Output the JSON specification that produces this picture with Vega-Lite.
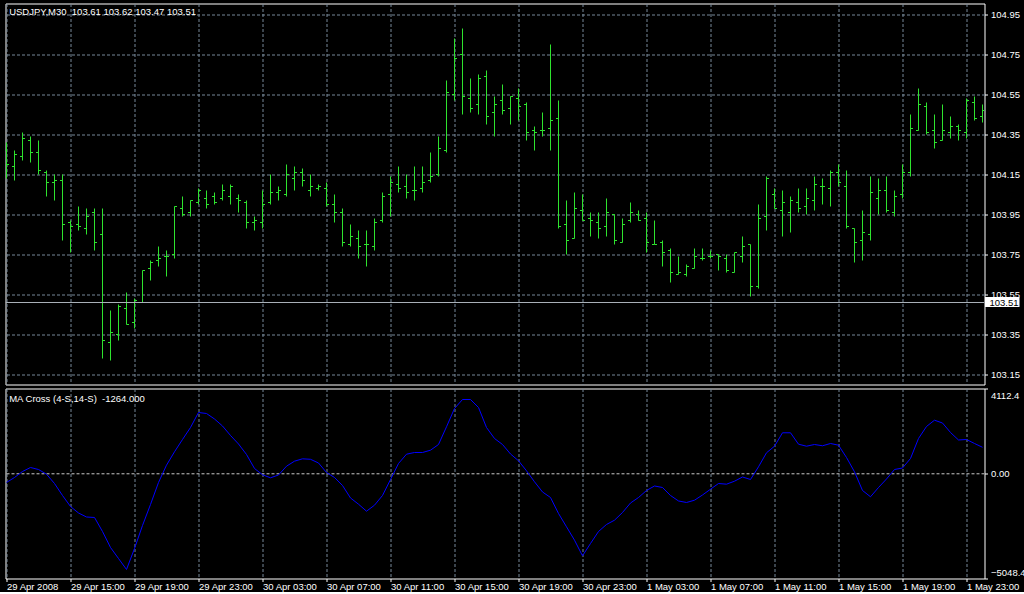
{
  "$schema": "https://vega.github.io/schema/vega-lite/v6.json",
  "background": "#000000",
  "padding": {"left": 4.5, "top": 2.5, "right": 0, "bottom": 0},
  "spacing": 2,
  "datasets": {
    "bars": [
      {"t":"2008-04-29 11:00","o":104.27,"h":104.31,"l":104.13,"c":104.20,"ma":-419},
      {"t":"2008-04-29 11:30","o":104.19,"h":104.27,"l":104.12,"c":104.25,"ma":-178},
      {"t":"2008-04-29 12:00","o":104.24,"h":104.36,"l":104.22,"c":104.33,"ma":111},
      {"t":"2008-04-29 12:30","o":104.32,"h":104.34,"l":104.21,"c":104.26,"ma":304},
      {"t":"2008-04-29 13:00","o":104.26,"h":104.32,"l":104.15,"c":104.17,"ma":207},
      {"t":"2008-04-29 13:30","o":104.16,"h":104.17,"l":104.04,"c":104.11,"ma":-19},
      {"t":"2008-04-29 14:00","o":104.11,"h":104.15,"l":104.02,"c":104.12,"ma":-468},
      {"t":"2008-04-29 14:30","o":104.12,"h":104.15,"l":103.82,"c":103.90,"ma":-1046},
      {"t":"2008-04-29 15:00","o":103.91,"h":103.92,"l":103.76,"c":103.89,"ma":-1577},
      {"t":"2008-04-29 15:30","o":103.90,"h":103.99,"l":103.87,"c":103.89,"ma":-1890},
      {"t":"2008-04-29 16:00","o":103.88,"h":103.98,"l":103.85,"c":103.94,"ma":-2083},
      {"t":"2008-04-29 16:30","o":103.96,"h":103.98,"l":103.77,"c":103.81,"ma":-2107},
      {"t":"2008-04-29 17:00","o":103.85,"h":103.98,"l":103.23,"c":103.32,"ma":-2782},
      {"t":"2008-04-29 17:30","o":103.31,"h":103.47,"l":103.22,"c":103.36,"ma":-3553},
      {"t":"2008-04-29 18:00","o":103.35,"h":103.50,"l":103.32,"c":103.49,"ma":-4084},
      {"t":"2008-04-29 18:30","o":103.48,"h":103.56,"l":103.40,"c":103.40,"ma":-4614},
      {"t":"2008-04-29 19:00","o":103.41,"h":103.53,"l":103.38,"c":103.52,"ma":-3602},
      {"t":"2008-04-29 19:30","o":103.51,"h":103.67,"l":103.51,"c":103.67,"ma":-2493},
      {"t":"2008-04-29 20:00","o":103.68,"h":103.72,"l":103.62,"c":103.71,"ma":-1480},
      {"t":"2008-04-29 20:30","o":103.72,"h":103.79,"l":103.69,"c":103.73,"ma":-419},
      {"t":"2008-04-29 21:00","o":103.74,"h":103.77,"l":103.64,"c":103.74,"ma":415},
      {"t":"2008-04-29 21:30","o":103.75,"h":103.99,"l":103.73,"c":103.99,"ma":1061},
      {"t":"2008-04-29 22:00","o":103.98,"h":104.04,"l":103.94,"c":103.95,"ma":1654},
      {"t":"2008-04-29 22:30","o":103.96,"h":104.02,"l":103.94,"c":104.02,"ma":2232},
      {"t":"2008-04-29 23:00","o":104.01,"h":104.08,"l":104.00,"c":104.07,"ma":2956},
      {"t":"2008-04-29 23:30","o":104.03,"h":104.07,"l":103.98,"c":104.00,"ma":2907},
      {"t":"2008-04-30 00:00","o":104.04,"h":104.06,"l":104.00,"c":104.01,"ma":2642},
      {"t":"2008-04-30 00:30","o":104.03,"h":104.10,"l":104.02,"c":104.07,"ma":2305},
      {"t":"2008-04-30 01:00","o":104.04,"h":104.10,"l":104.00,"c":104.09,"ma":1847},
      {"t":"2008-04-30 01:30","o":104.03,"h":104.05,"l":103.96,"c":104.02,"ma":1437},
      {"t":"2008-04-30 02:00","o":104.01,"h":104.02,"l":103.88,"c":103.91,"ma":931},
      {"t":"2008-04-30 02:30","o":103.91,"h":103.94,"l":103.87,"c":103.92,"ma":256},
      {"t":"2008-04-30 03:00","o":103.91,"h":104.07,"l":103.88,"c":104.00,"ma":-48},
      {"t":"2008-04-30 03:30","o":104.01,"h":104.15,"l":104.00,"c":104.06,"ma":-193},
      {"t":"2008-04-30 04:00","o":104.06,"h":104.09,"l":104.02,"c":104.07,"ma":-58},
      {"t":"2008-04-30 04:30","o":104.05,"h":104.20,"l":104.04,"c":104.15,"ma":366},
      {"t":"2008-04-30 05:00","o":104.13,"h":104.19,"l":104.07,"c":104.16,"ma":608},
      {"t":"2008-04-30 05:30","o":104.16,"h":104.18,"l":104.09,"c":104.12,"ma":723},
      {"t":"2008-04-30 06:00","o":104.07,"h":104.15,"l":104.04,"c":104.09,"ma":699},
      {"t":"2008-04-30 06:30","o":104.08,"h":104.10,"l":104.07,"c":104.09,"ma":521},
      {"t":"2008-04-30 07:00","o":104.08,"h":104.11,"l":103.99,"c":104.00,"ma":63},
      {"t":"2008-04-30 07:30","o":104.00,"h":104.05,"l":103.91,"c":103.96,"ma":-178},
      {"t":"2008-04-30 08:00","o":103.96,"h":103.98,"l":103.79,"c":103.81,"ma":-564},
      {"t":"2008-04-30 08:30","o":103.80,"h":103.90,"l":103.79,"c":103.84,"ma":-1167},
      {"t":"2008-04-30 09:00","o":103.83,"h":103.87,"l":103.73,"c":103.79,"ma":-1466},
      {"t":"2008-04-30 09:30","o":103.80,"h":103.87,"l":103.69,"c":103.80,"ma":-1803},
      {"t":"2008-04-30 10:00","o":103.79,"h":103.93,"l":103.77,"c":103.91,"ma":-1514},
      {"t":"2008-04-30 10:30","o":103.92,"h":104.06,"l":103.91,"c":104.04,"ma":-1046},
      {"t":"2008-04-30 11:00","o":104.05,"h":104.14,"l":103.94,"c":104.11,"ma":-275},
      {"t":"2008-04-30 11:30","o":104.10,"h":104.19,"l":104.06,"c":104.08,"ma":497},
      {"t":"2008-04-30 12:00","o":104.09,"h":104.15,"l":104.03,"c":104.06,"ma":945},
      {"t":"2008-04-30 12:30","o":104.07,"h":104.19,"l":104.02,"c":104.07,"ma":1027},
      {"t":"2008-04-30 13:00","o":104.08,"h":104.19,"l":104.06,"c":104.11,"ma":1027},
      {"t":"2008-04-30 13:30","o":104.12,"h":104.26,"l":104.11,"c":104.14,"ma":1138},
      {"t":"2008-04-30 14:00","o":104.15,"h":104.34,"l":104.14,"c":104.28,"ma":1413},
      {"t":"2008-04-30 14:30","o":104.27,"h":104.62,"l":104.26,"c":104.56,"ma":2266},
      {"t":"2008-04-30 15:00","o":104.55,"h":104.83,"l":104.52,"c":104.73,"ma":3148},
      {"t":"2008-04-30 15:30","o":104.75,"h":104.88,"l":104.45,"c":104.54,"ma":3582},
      {"t":"2008-04-30 16:00","o":104.53,"h":104.63,"l":104.46,"c":104.48,"ma":3582},
      {"t":"2008-04-30 16:30","o":104.50,"h":104.65,"l":104.45,"c":104.63,"ma":3197},
      {"t":"2008-04-30 17:00","o":104.64,"h":104.67,"l":104.40,"c":104.44,"ma":2232},
      {"t":"2008-04-30 17:30","o":104.46,"h":104.54,"l":104.34,"c":104.50,"ma":1702},
      {"t":"2008-04-30 18:00","o":104.52,"h":104.60,"l":104.45,"c":104.47,"ma":1413},
      {"t":"2008-04-30 18:30","o":104.48,"h":104.54,"l":104.40,"c":104.54,"ma":955},
      {"t":"2008-04-30 19:00","o":104.53,"h":104.58,"l":104.42,"c":104.49,"ma":627},
      {"t":"2008-04-30 19:30","o":104.50,"h":104.51,"l":104.32,"c":104.36,"ma":145},
      {"t":"2008-04-30 20:00","o":104.37,"h":104.39,"l":104.27,"c":104.36,"ma":-386},
      {"t":"2008-04-30 20:30","o":104.37,"h":104.46,"l":104.34,"c":104.37,"ma":-877},
      {"t":"2008-04-30 21:00","o":104.38,"h":104.80,"l":104.27,"c":104.42,"ma":-1143},
      {"t":"2008-04-30 21:30","o":104.43,"h":104.52,"l":103.88,"c":103.89,"ma":-1914},
      {"t":"2008-04-30 22:00","o":103.90,"h":104.02,"l":103.75,"c":103.82,"ma":-2555},
      {"t":"2008-04-30 22:30","o":103.83,"h":104.06,"l":103.83,"c":103.98,"ma":-3201},
      {"t":"2008-04-30 23:00","o":103.97,"h":104.05,"l":103.92,"c":103.92,"ma":-3954},
      {"t":"2008-04-30 23:30","o":103.93,"h":103.96,"l":103.84,"c":103.92,"ma":-3361},
      {"t":"2008-05-01 00:00","o":103.91,"h":103.96,"l":103.83,"c":103.88,"ma":-2782},
      {"t":"2008-05-01 00:30","o":103.89,"h":104.03,"l":103.84,"c":103.96,"ma":-2444},
      {"t":"2008-05-01 01:00","o":103.95,"h":103.95,"l":103.80,"c":103.82,"ma":-2237},
      {"t":"2008-05-01 01:30","o":103.81,"h":103.93,"l":103.81,"c":103.90,"ma":-1866},
      {"t":"2008-05-01 02:00","o":103.92,"h":104.01,"l":103.91,"c":103.96,"ma":-1408},
      {"t":"2008-05-01 02:30","o":103.95,"h":103.97,"l":103.92,"c":103.92,"ma":-1143},
      {"t":"2008-05-01 03:00","o":103.93,"h":103.96,"l":103.76,"c":103.81,"ma":-805},
      {"t":"2008-05-01 03:30","o":103.80,"h":103.92,"l":103.80,"c":103.80,"ma":-588},
      {"t":"2008-05-01 04:00","o":103.81,"h":103.82,"l":103.69,"c":103.76,"ma":-661},
      {"t":"2008-05-01 04:30","o":103.77,"h":103.78,"l":103.61,"c":103.66,"ma":-1046},
      {"t":"2008-05-01 05:00","o":103.65,"h":103.74,"l":103.65,"c":103.66,"ma":-1311},
      {"t":"2008-05-01 05:30","o":103.65,"h":103.70,"l":103.64,"c":103.69,"ma":-1384},
      {"t":"2008-05-01 06:00","o":103.68,"h":103.78,"l":103.68,"c":103.74,"ma":-1273},
      {"t":"2008-05-01 06:30","o":103.73,"h":103.78,"l":103.72,"c":103.73,"ma":-1022},
      {"t":"2008-05-01 07:00","o":103.74,"h":103.77,"l":103.73,"c":103.74,"ma":-743},
      {"t":"2008-05-01 07:30","o":103.75,"h":103.75,"l":103.67,"c":103.74,"ma":-468},
      {"t":"2008-05-01 08:00","o":103.73,"h":103.75,"l":103.66,"c":103.67,"ma":-501},
      {"t":"2008-05-01 08:30","o":103.66,"h":103.76,"l":103.66,"c":103.76,"ma":-357},
      {"t":"2008-05-01 09:00","o":103.74,"h":103.84,"l":103.71,"c":103.79,"ma":-154},
      {"t":"2008-05-01 09:30","o":103.80,"h":103.80,"l":103.54,"c":103.59,"ma":-275},
      {"t":"2008-05-01 10:00","o":103.59,"h":104.00,"l":103.58,"c":103.93,"ma":338},
      {"t":"2008-05-01 10:30","o":103.94,"h":104.14,"l":103.87,"c":104.13,"ma":1013},
      {"t":"2008-05-01 11:00","o":104.05,"h":104.08,"l":103.98,"c":103.98,"ma":1331},
      {"t":"2008-05-01 11:30","o":103.97,"h":104.07,"l":103.84,"c":104.01,"ma":1977},
      {"t":"2008-05-01 12:00","o":103.96,"h":104.04,"l":103.86,"c":104.02,"ma":1977},
      {"t":"2008-05-01 12:30","o":104.01,"h":104.08,"l":103.96,"c":103.98,"ma":1427},
      {"t":"2008-05-01 13:00","o":103.99,"h":104.08,"l":103.95,"c":104.03,"ma":1331},
      {"t":"2008-05-01 13:30","o":104.02,"h":104.14,"l":103.97,"c":104.10,"ma":1413},
      {"t":"2008-05-01 14:00","o":104.09,"h":104.13,"l":104.00,"c":104.09,"ma":1350},
      {"t":"2008-05-01 14:30","o":104.08,"h":104.17,"l":103.99,"c":104.16,"ma":1461},
      {"t":"2008-05-01 15:00","o":104.16,"h":104.20,"l":104.09,"c":104.11,"ma":1379},
      {"t":"2008-05-01 15:30","o":104.09,"h":104.17,"l":103.88,"c":103.89,"ma":786},
      {"t":"2008-05-01 16:00","o":103.88,"h":103.88,"l":103.71,"c":103.81,"ma":96},
      {"t":"2008-05-01 16:30","o":103.82,"h":103.97,"l":103.72,"c":103.86,"ma":-805},
      {"t":"2008-05-01 17:00","o":103.85,"h":104.14,"l":103.82,"c":104.06,"ma":-1109},
      {"t":"2008-05-01 17:30","o":104.03,"h":104.13,"l":103.95,"c":104.07,"ma":-661},
      {"t":"2008-05-01 18:00","o":104.07,"h":104.14,"l":103.96,"c":103.97,"ma":-251},
      {"t":"2008-05-01 18:30","o":103.96,"h":104.07,"l":103.94,"c":104.04,"ma":207},
      {"t":"2008-05-01 19:00","o":104.05,"h":104.20,"l":104.03,"c":104.16,"ma":280},
      {"t":"2008-05-01 19:30","o":104.16,"h":104.45,"l":104.14,"c":104.38,"ma":738},
      {"t":"2008-05-01 20:00","o":104.37,"h":104.58,"l":104.37,"c":104.50,"ma":1702},
      {"t":"2008-05-01 20:30","o":104.49,"h":104.51,"l":104.35,"c":104.36,"ma":2281},
      {"t":"2008-05-01 21:00","o":104.37,"h":104.45,"l":104.28,"c":104.31,"ma":2584},
      {"t":"2008-05-01 21:30","o":104.32,"h":104.50,"l":104.32,"c":104.37,"ma":2449},
      {"t":"2008-05-01 22:00","o":104.36,"h":104.44,"l":104.33,"c":104.39,"ma":1991},
      {"t":"2008-05-01 22:30","o":104.39,"h":104.40,"l":104.32,"c":104.37,"ma":1630},
      {"t":"2008-05-01 23:00","o":104.36,"h":104.53,"l":104.33,"c":104.52,"ma":1654},
      {"t":"2008-05-01 23:30","o":104.51,"h":104.54,"l":104.42,"c":104.43,"ma":1461},
      {"t":"2008-05-02 00:00","o":104.44,"h":104.50,"l":104.41,"c":104.47,"ma":1278}
    ]
  },
  "vconcat": [
    {
      "width": 979,
      "height": 381,
      "layer": [
        {
          "data": {"name": "bars"},
          "mark": {"type": "rule", "color": "#2ee32e", "strokeWidth": 1, "clip": true},
          "encoding": {
            "x": {
              "field": "t", "type": "temporal",
              "scale": {"domain": [{"year":2008,"month":4,"date":29,"hours":10,"minutes":56,"seconds":15},{"year":2008,"month":5,"date":2,"hours":0,"minutes":7,"seconds":30}]},
              "axis": {
                "title": null, "labels": false, "ticks": false, "domain": false,
                "grid": true, "gridColor": "#778899", "gridDash": [3, 2], "gridWidth": 1,
                "values": [
                  {"year":2008,"month":4,"date":29,"hours":11},{"year":2008,"month":4,"date":29,"hours":13},{"year":2008,"month":4,"date":29,"hours":15},{"year":2008,"month":4,"date":29,"hours":17},{"year":2008,"month":4,"date":29,"hours":19},{"year":2008,"month":4,"date":29,"hours":21},{"year":2008,"month":4,"date":29,"hours":23},
                  {"year":2008,"month":4,"date":30,"hours":1},{"year":2008,"month":4,"date":30,"hours":3},{"year":2008,"month":4,"date":30,"hours":5},{"year":2008,"month":4,"date":30,"hours":7},{"year":2008,"month":4,"date":30,"hours":9},{"year":2008,"month":4,"date":30,"hours":11},{"year":2008,"month":4,"date":30,"hours":13},{"year":2008,"month":4,"date":30,"hours":15},{"year":2008,"month":4,"date":30,"hours":17},{"year":2008,"month":4,"date":30,"hours":19},{"year":2008,"month":4,"date":30,"hours":21},{"year":2008,"month":4,"date":30,"hours":23},
                  {"year":2008,"month":5,"date":1,"hours":1},{"year":2008,"month":5,"date":1,"hours":3},{"year":2008,"month":5,"date":1,"hours":5},{"year":2008,"month":5,"date":1,"hours":7},{"year":2008,"month":5,"date":1,"hours":9},{"year":2008,"month":5,"date":1,"hours":11},{"year":2008,"month":5,"date":1,"hours":13},{"year":2008,"month":5,"date":1,"hours":15},{"year":2008,"month":5,"date":1,"hours":17},{"year":2008,"month":5,"date":1,"hours":19},{"year":2008,"month":5,"date":1,"hours":21},{"year":2008,"month":5,"date":1,"hours":23}
                ]
              }
            },
            "y": {
              "field": "l", "type": "quantitative",
              "scale": {"domain": [103.1, 105.005], "zero": false, "nice": false},
              "axis": {
                "title": null, "orient": "right", "domain": false,
                "values": [103.15, 103.35, 103.55, 103.75, 103.95, 104.15, 104.35, 104.55, 104.75, 104.95],
                "format": ".2f", "grid": true, "gridColor": "#778899", "gridDash": [3, 2],
                "tickColor": "#ffffff", "tickSize": 3, "labelPadding": 3,
                "labelColor": "#ffffff", "labelFont": "Liberation Sans", "labelFontSize": 9.5, "labelBaseline": "middle"
              }
            },
            "y2": {"field": "h"}
          }
        },
        {
          "data": {"name": "bars"},
          "mark": {"type": "rule", "color": "#2ee32e", "strokeWidth": 1, "xOffset": -2.5, "clip": true},
          "encoding": {
            "x": {"field": "t", "type": "temporal"},
            "x2": {"field": "t"},
            "y": {"field": "o", "type": "quantitative"}
          }
        },
        {
          "data": {"name": "bars"},
          "mark": {"type": "rule", "color": "#2ee32e", "strokeWidth": 1, "x2Offset": 2.5, "clip": true},
          "encoding": {
            "x": {"field": "t", "type": "temporal"},
            "x2": {"field": "t"},
            "y": {"field": "c", "type": "quantitative"}
          }
        },
        {
          "data": {"values": [{}]},
          "mark": {"type": "rule", "color": "#a9b0b8", "strokeWidth": 1, "clip": true},
          "encoding": {"y": {"datum": 103.51, "type": "quantitative"}}
        },
        {
          "data": {"values": [{}]},
          "mark": {"type": "rect", "color": "#ffffff", "clip": false},
          "encoding": {
            "x": {"datum": {"year":2008,"month":5,"date":2,"hours":0,"minutes":9,"seconds":22}, "type": "temporal"},
            "x2": {"datum": {"year":2008,"month":5,"date":2,"hours":2,"minutes":18,"seconds":45}},
            "y": {"datum": 103.5375, "type": "quantitative"},
            "y2": {"datum": 103.4875}
          }
        },
        {
          "data": {"values": [{}]},
          "mark": {"type": "text", "color": "#000000", "align": "left", "baseline": "middle", "font": "Liberation Sans", "fontSize": 9.5, "clip": false},
          "encoding": {
            "x": {"datum": {"year":2008,"month":5,"date":2,"hours":0,"minutes":26}, "type": "temporal"},
            "y": {"datum": 103.51, "type": "quantitative"},
            "text": {"value": "103.51"}
          }
        },
        {
          "data": {"values": [{}]},
          "mark": {"type": "text", "color": "#ffffff", "align": "left", "baseline": "middle", "font": "Liberation Sans", "fontSize": 9.5},
          "encoding": {
            "x": {"datum": {"year":2008,"month":4,"date":29,"hours":11,"minutes":10}, "type": "temporal"},
            "y": {"datum": 104.9625, "type": "quantitative"},
            "text": {"value": "USDJPY,M30\u00a0\u00a0103.61 103.62 103.47 103.51"}
          }
        }
      ]
    },
    {
      "width": 979,
      "height": 190,
      "layer": [
        {
          "data": {"values": [{}]},
          "mark": {"type": "rule", "color": "#c8c8c8", "strokeWidth": 1, "strokeDash": [3, 2], "clip": true},
          "encoding": {"y": {"datum": 0, "type": "quantitative", "scale": {"domain": [-5048.4, 4112.4], "zero": false, "nice": false}}}
        },
        {
          "data": {"name": "bars"},
          "mark": {"type": "line", "color": "#0000ff", "strokeWidth": 1, "clip": true},
          "encoding": {
            "x": {
              "field": "t", "type": "temporal",
              "scale": {"domain": [{"year":2008,"month":4,"date":29,"hours":10,"minutes":56,"seconds":15},{"year":2008,"month":5,"date":2,"hours":0,"minutes":7,"seconds":30}]},
              "axis": {
                "title": null, "orient": "bottom", "domain": false,
                "grid": true, "gridColor": "#778899", "gridDash": [3, 2], "gridWidth": 1,
                "tickSize": 3,
                "tickColor": {"condition": {"test": "hours(datum.value) % 4 == 3", "value": "#ffffff"}, "value": "transparent"},
                "labelExpr": "hours(datum.value) % 4 == 3 ? ((date(datum.value) == 29 && hours(datum.value) == 11) ? '29 Apr 2008' : timeFormat(datum.value, '%-d %b %H:%M')) : ''",
                "labelAlign": "left", "labelBaseline": "top", "labelPadding": 0,
                "labelFlush": false, "labelOverlap": false, "labelBound": false,
                "labelColor": "#ffffff", "labelFont": "Liberation Sans", "labelFontSize": 9.5,
                "values": [
                  {"year":2008,"month":4,"date":29,"hours":11},{"year":2008,"month":4,"date":29,"hours":13},{"year":2008,"month":4,"date":29,"hours":15},{"year":2008,"month":4,"date":29,"hours":17},{"year":2008,"month":4,"date":29,"hours":19},{"year":2008,"month":4,"date":29,"hours":21},{"year":2008,"month":4,"date":29,"hours":23},
                  {"year":2008,"month":4,"date":30,"hours":1},{"year":2008,"month":4,"date":30,"hours":3},{"year":2008,"month":4,"date":30,"hours":5},{"year":2008,"month":4,"date":30,"hours":7},{"year":2008,"month":4,"date":30,"hours":9},{"year":2008,"month":4,"date":30,"hours":11},{"year":2008,"month":4,"date":30,"hours":13},{"year":2008,"month":4,"date":30,"hours":15},{"year":2008,"month":4,"date":30,"hours":17},{"year":2008,"month":4,"date":30,"hours":19},{"year":2008,"month":4,"date":30,"hours":21},{"year":2008,"month":4,"date":30,"hours":23},
                  {"year":2008,"month":5,"date":1,"hours":1},{"year":2008,"month":5,"date":1,"hours":3},{"year":2008,"month":5,"date":1,"hours":5},{"year":2008,"month":5,"date":1,"hours":7},{"year":2008,"month":5,"date":1,"hours":9},{"year":2008,"month":5,"date":1,"hours":11},{"year":2008,"month":5,"date":1,"hours":13},{"year":2008,"month":5,"date":1,"hours":15},{"year":2008,"month":5,"date":1,"hours":17},{"year":2008,"month":5,"date":1,"hours":19},{"year":2008,"month":5,"date":1,"hours":21},{"year":2008,"month":5,"date":1,"hours":23}
                ]
              }
            },
            "y": {
              "field": "ma", "type": "quantitative",
              "scale": {"domain": [-5048.4, 4112.4], "zero": false, "nice": false},
              "axis": {
                "title": null, "orient": "right", "domain": false, "grid": false,
                "values": [-5048.4, 0, 4112.4],
                "labelExpr": "datum.value == 0 ? '0.00' : format(datum.value, '.1f')",
                "tickColor": "#ffffff", "tickSize": 3, "labelPadding": 3,
                "labelBaseline": "middle",
                "labelOffset": {"condition": [{"test": "datum.value > 1000", "value": 7}, {"test": "datum.value < -1000", "value": -6}], "value": 0},
                "labelColor": "#ffffff", "labelFont": "Liberation Sans", "labelFontSize": 9.5
              }
            }
          }
        },
        {
          "data": {"values": [{}]},
          "mark": {"type": "text", "color": "#ffffff", "align": "left", "baseline": "middle", "font": "Liberation Sans", "fontSize": 9.5},
          "encoding": {
            "x": {"datum": {"year":2008,"month":4,"date":29,"hours":11,"minutes":10}, "type": "temporal"},
            "y": {"datum": 3606, "type": "quantitative"},
            "text": {"value": "MA Cross (4-S,14-S)\u00a0\u00a0-1264.000"}
          }
        }
      ]
    }
  ],
  "config": {
    "view": {"stroke": "#ffffff", "strokeWidth": 1},
    "axis": {"labelFont": "Liberation Sans"}
  }
}
